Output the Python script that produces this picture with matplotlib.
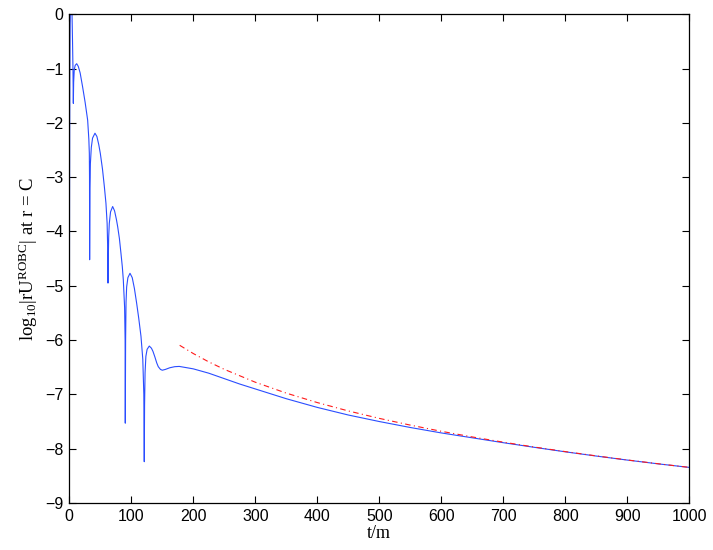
import numpy as np
from matplotlib import pyplot as plt

plt.rcParams['font.family'] = ['Liberation Sans', 'DejaVu Sans']
plt.rcParams['mathtext.fontset'] = 'custom'
plt.rcParams['mathtext.rm'] = 'Liberation Serif'
plt.rcParams['mathtext.it'] = 'Liberation Serif:italic'

# blue curve: log10|rU^ROBC| (t/m, value)
t_blue = [0, 0.4, 0.8, 1.3, 2.0, 3.0, 3.8, 4.4, 5.2, 5.9, 6.5,
          7.0, 8.0, 9.5, 11.9, 14.5, 17.5, 21.5, 25.5, 29.6, 31.5, 32.3, 32.6, 32.8,
          33.3, 34.0, 35.5, 37.5, 41.4, 44.5, 47.5, 50.0, 53.5, 56.5, 59.1, 61.0, 61.9, 62.4,
          62.9, 63.5, 64.5, 66.5, 69.9, 73.0, 76.0, 78.0, 80.8, 83.3, 85.5, 87.1, 89.2, 90.0, 90.3,
          90.8, 91.5, 92.5, 94.5, 97.9, 101.5, 105.0, 108.6, 112.0, 115.6, 118.5, 120.2, 120.9,
          121.4, 122.2, 123.5, 125.5, 129.0, 132.5, 135.0, 138.0, 141.0, 143.5, 147.0, 150.0,
          155.0, 162.0, 170.0, 177.3, 190, 200, 225, 250, 275, 300, 350, 400, 450, 500,
          550, 600, 650, 700, 750, 800, 850, 900, 950, 1000]
y_blue = [-7.23, -3.5, -1.2, -0.2, 0.25, 0.35, 0.2, 0.0, -0.5, -1.0, -1.64,
          -1.25, -1.02, -0.94, -0.91, -0.96, -1.08, -1.34, -1.62, -1.95, -2.3, -2.56, -3.0, -4.52,
          -3.2, -2.75, -2.45, -2.28, -2.19, -2.25, -2.40, -2.56, -2.85, -3.17, -3.48, -3.85, -4.3, -4.95,
          -4.5, -4.1, -3.85, -3.64, -3.54, -3.62, -3.78, -3.91, -4.13, -4.40, -4.65, -4.89, -5.4, -6.0, -7.53,
          -6.0, -5.3, -5.02, -4.85, -4.77, -4.85, -5.05, -5.32, -5.6, -5.93, -6.35, -7.0, -8.24,
          -7.2, -6.6, -6.3, -6.17, -6.11, -6.15, -6.21, -6.31, -6.42, -6.49, -6.54, -6.555,
          -6.54, -6.51, -6.49, -6.485, -6.51, -6.53, -6.61, -6.71, -6.81, -6.90, -7.08, -7.24, -7.38, -7.50,
          -7.61, -7.71, -7.80, -7.89, -7.975, -8.058, -8.136, -8.21, -8.28, -8.345]

# red dash-dot curve (late-time tail)
t_red = [178, 200, 225, 250, 300, 350, 400, 450, 500, 550, 600, 650, 700,
         750, 800, 850, 900, 950, 1000]
y_red = [-6.096, -6.248, -6.402, -6.539, -6.776, -6.977, -7.151, -7.305, -7.442,
         -7.566, -7.680, -7.784, -7.880, -7.970, -8.054, -8.133, -8.208, -8.278, -8.345]

fig = plt.figure(figsize=(7.13, 5.50), dpi=100)
ax = fig.add_axes([0.0972, 0.0855, 0.8696, 0.8885])

ax.plot(t_blue, y_blue, color='#2a4dff', lw=0.8)
ax.plot(t_red, y_red, color='#ff1a1a', lw=0.8, dashes=[5, 3, 1, 3])

ax.set_xlim(0, 1000)
ax.set_ylim(-9, 0)
ax.set_xticks(np.arange(0, 1001, 100))
ax.set_yticks(np.arange(-9, 1, 1))
ax.tick_params(direction='in', top=True, right=True, length=5, width=0.8,
               labelsize=11.5, pad=4)
for s in ax.spines.values():
    s.set_linewidth(0.9)

ax.set_xlabel('t/m', family='Liberation Serif', fontsize=13, labelpad=1)
ax.set_ylabel(r'log$_{10}$|rU$^{\mathrm{ROBC}}$| at r = C',
              family='Liberation Serif', fontsize=13.5, labelpad=4)

fig.savefig('out.png', dpi=100)
